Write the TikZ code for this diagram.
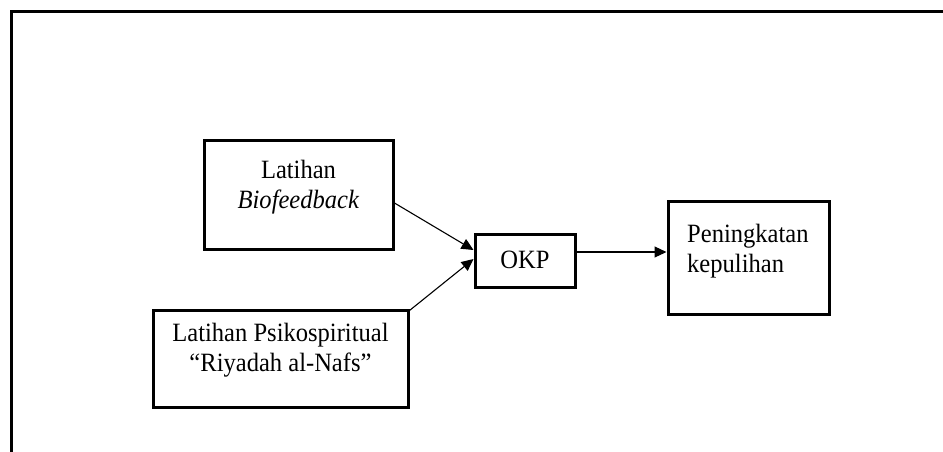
\documentclass[tikz,border=0pt]{standalone}
\usepackage{fontspec}
\setmainfont[FakeStretch=0.93]{Liberation Serif}
\usetikzlibrary{arrows.meta}
\begin{document}
\begin{tikzpicture}[x=1pt,y=-1pt,
  box/.style={draw=black,line width=3pt,rectangle,inner sep=0pt},
  txt/.style={inner sep=0pt,font=\fontsize{26.4}{29.5}\selectfont},
  conn/.style={line width=1.1pt,-{Triangle[length=12pt,width=11pt]}}]
\useasboundingbox (0,0) rectangle (943,451);
\draw[line width=3pt] (11,460) -- (11,11) -- (950,11);
% boxes
\node[box,minimum width=189pt,minimum height=109pt] (b1) at (298.5,194.5) {};
\node[box,minimum width=255pt,minimum height=97pt] (b3) at (280.5,358.5) {};
\node[box,minimum width=100pt,minimum height=53pt] (okp) at (525,260.5) {};
\node[box,minimum width=161pt,minimum height=113pt] (b4) at (748.5,257.5) {};
% texts
\node[txt,align=center] (t1) at (298.5,187) {Latihan\\\textit{Biofeedback}};
\node[txt,align=center] (t3) at (280.5,350) {Latihan Psikospiritual\\``Riyadah al-Nafs''};
\node[txt] (tokp) at (525,260) {OKP};
\node[txt,align=left,anchor=west] (t4) at (687,251) {Peningkatan\\kepulihan};
% connectors
\draw[conn] ([yshift=-8.5pt]b1.east) -- ([yshift=10.5pt]okp.west);
\draw[conn] ([yshift=-2pt]b3.north east) -- ([yshift=1.5pt]okp.west);
\draw[conn] ([yshift=8.5pt]okp.east) -- ([yshift=5.5pt]b4.west);
\end{tikzpicture}
\end{document}
